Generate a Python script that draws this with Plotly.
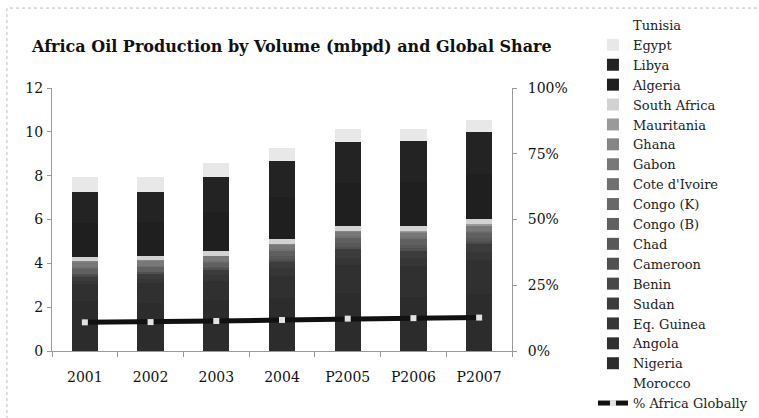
import plotly.graph_objects as go

years = ["2001", "2002", "2003", "2004", "P2005", "P2006", "P2007"]

# stacked bottom-up (legend shows them reversed)
morocco      = [0.004, 0.004, 0.004, 0.004, 0.004, 0.004, 0.004]
nigeria      = [2.30, 2.20, 2.33, 2.42, 2.65, 2.47, 2.60]
angola       = [0.74, 0.90, 0.87, 1.00, 1.25, 1.40, 1.55]
eq_guinea    = [0.16, 0.20, 0.25, 0.35, 0.36, 0.36, 0.37]
sudan        = [0.21, 0.22, 0.26, 0.33, 0.40, 0.36, 0.40]
benin        = [0.01, 0.01, 0.01, 0.01, 0.01, 0.01, 0.01]
cameroon     = [0.08, 0.07, 0.07, 0.07, 0.08, 0.08, 0.08]
chad         = [0.00, 0.00, 0.02, 0.17, 0.17, 0.16, 0.15]
congo_b      = [0.27, 0.23, 0.24, 0.23, 0.25, 0.27, 0.25]
congo_k      = [0.02, 0.02, 0.02, 0.02, 0.02, 0.02, 0.02]
cote_divoire = [0.03, 0.03, 0.03, 0.03, 0.05, 0.06, 0.05]
gabon        = [0.27, 0.25, 0.24, 0.24, 0.23, 0.23, 0.23]
ghana        = [0.01, 0.01, 0.01, 0.01, 0.01, 0.01, 0.01]
mauritania   = [0.00, 0.00, 0.00, 0.00, 0.00, 0.05, 0.06]
south_africa = [0.20, 0.19, 0.19, 0.23, 0.20, 0.20, 0.23]
algeria      = [1.55, 1.55, 1.80, 1.90, 2.00, 2.05, 2.05]
libya        = [1.42, 1.38, 1.58, 1.67, 1.83, 1.87, 1.91]
egypt        = [0.70, 0.70, 0.66, 0.58, 0.66, 0.57, 0.60]
tunisia      = [0.07, 0.07, 0.07, 0.07, 0.07, 0.07, 0.07]

pct_africa = [0.109, 0.110, 0.114, 0.118, 0.123, 0.125, 0.127]

series = [
    ("Morocco", morocco, "#ffffff"),
    ("Nigeria", nigeria, "#2c2c2c"),
    ("Angola", angola, "#303030"),
    ("Eq. Guinea", eq_guinea, "#363636"),
    ("Sudan", sudan, "#3c3c3c"),
    ("Benin", benin, "#474747"),
    ("Cameroon", cameroon, "#505050"),
    ("Chad", chad, "#585858"),
    ("Congo (B)", congo_b, "#606060"),
    ("Congo (K)", congo_k, "#686868"),
    ("Cote d'Ivoire", cote_divoire, "#707070"),
    ("Gabon", gabon, "#787878"),
    ("Ghana", ghana, "#858585"),
    ("Mauritania", mauritania, "#9a9a9a"),
    ("South Africa", south_africa, "#d2d2d2"),
    ("Algeria", algeria, "#1f1f1f"),
    ("Libya", libya, "#232323"),
    ("Egypt", egypt, "#e8e8e8"),
    ("Tunisia", tunisia, "#ffffff"),
]

FONT = "DejaVu Serif"
fig = go.Figure()
n = len(series)
for i, (name, vals, col) in enumerate(series):
    fig.add_trace(go.Bar(
        x=years, y=vals, name=name,
        marker=dict(color=col, line=dict(width=0)),
        legendrank=n - i,
    ))

fig.add_trace(go.Scatter(
    x=years, y=pct_africa, name="% Africa Globally", yaxis="y2",
    mode="lines+markers",
    line=dict(color="#111111", width=5),
    marker=dict(symbol="square", size=6, color="#e2e2e2", line=dict(width=0)),
    legendrank=n + 1,
))

fig.update_layout(
    width=759, height=418,
    margin=dict(l=52, r=247, t=88, b=67, autoexpand=False),
    paper_bgcolor="white", plot_bgcolor="white",
    barmode="stack", bargap=0.6,
    showlegend=True,
    font=dict(family=FONT, size=14, color="#222222"),
    legend=dict(
        x=1.176, xanchor="left", y=1.2966, yanchor="top",
        traceorder="normal", maxheight=418,
        font=dict(family=FONT, size=13, color="#222222"),
        tracegroupgap=0, itemwidth=30, bgcolor="rgba(0,0,0,0)",
    ),
    xaxis=dict(
        type="category", showgrid=False, showline=True, linecolor="#999999",
        ticks="outside", tickson="boundaries", ticklen=5, tickcolor="#999999",
        ticklabelstandoff=13, tickfont=dict(size=14, color="#111111"),
    ),
    yaxis=dict(
        range=[0, 12], dtick=2, showgrid=False, showline=True, linecolor="#999999",
        ticks="outside", ticklen=4, tickcolor="#999999", zeroline=False,
        tickfont=dict(size=14, color="#111111"), ticklabelstandoff=1,
    ),
    yaxis2=dict(
        overlaying="y", side="right", range=[0, 1], dtick=0.25, tickformat=".0%",
        showgrid=False, showline=True, linecolor="#999999",
        ticks="outside", ticklen=4, tickcolor="#999999", zeroline=False,
        tickfont=dict(size=14, color="#111111"), ticklabelstandoff=8,
    ),
    annotations=[dict(
        text="<b>Africa Oil Production by Volume (mbpd) and Global Share</b>",
        xref="paper", yref="paper", x=-0.05, y=1.156,
        xanchor="left", yanchor="middle", showarrow=False,
        font=dict(family=FONT, size=16, color="#111111"),
    )],
    shapes=[dict(
        type="rect", xref="paper", yref="paper",
        x0=-0.098, x1=1.7, y0=-0.3, y1=1.304,
        line=dict(color="#bbbbbb", width=1, dash="dot"),
    )],
)

fig.write_html("out.html", config={"displayModeBar": False},
               post_script="document.body.style.margin='0';")
